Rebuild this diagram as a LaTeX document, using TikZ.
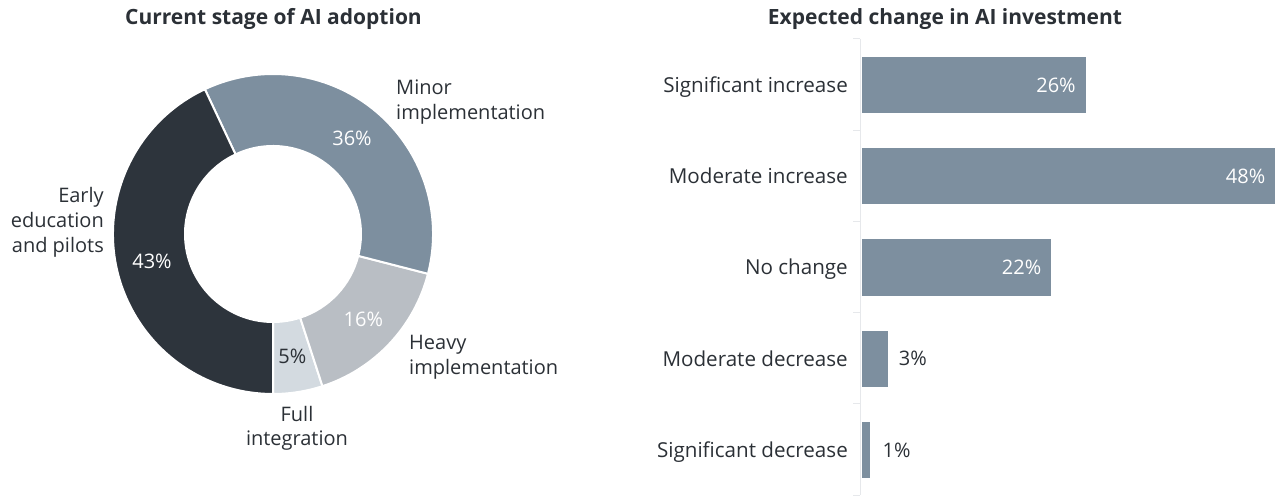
\documentclass[tikz,border=0pt]{standalone}
\usepackage{fontspec}
\setmainfont{Open Sans}
\definecolor{cdark}{HTML}{2D343C}
\definecolor{cmid}{HTML}{7D8F9F}
\definecolor{clight}{HTML}{B9BEC4}
\definecolor{cpale}{HTML}{D3DAE0}
\definecolor{ctext}{HTML}{2B3036}
\definecolor{caxis}{HTML}{E6E8EB}
\begin{document}
\begin{tikzpicture}[x=1pt,y=-1pt,
  lab/.style={font=\fontsize{20.6}{25}\selectfont, text=ctext, inner sep=0pt},
  dlab/.style={font=\fontsize{20}{25}\selectfont, text=ctext, inner sep=0pt},
  ttl/.style={font=\fontsize{21}{25}\selectfont\bfseries, text=ctext, inner sep=0pt},
  pin/.style={font=\fontsize{20}{24}\selectfont, text=white, inner sep=0pt},
  pout/.style={font=\fontsize{20}{24}\selectfont, text=ctext, inner sep=0pt},
  seg/.style={draw=white, line width=2pt, line join=miter},
  bar/.style={fill=cmid, draw=none, inner sep=0pt, minimum height=56pt, anchor=west}]
\useasboundingbox (0,0) rectangle (1275,497);
% titles
\node[ttl, anchor=base] (t1) at (273.5,25) {Current stage of AI adoption};
\node[ttl, anchor=base] (t2) at (945,25) {Expected change in AI investment};
% donut
\begin{scope}[shift={(273,234)}, yscale=-1]
  \def\R{160}\def\r{88}
  \path[seg, fill=cpale] (-90:\R) arc[start angle=-90, end angle=-72, radius=\R] -- (-72:\r) arc[start angle=-72, end angle=-90, radius=\r] -- cycle;
  \path[seg, fill=clight] (-72:\R) arc[start angle=-72, end angle=-14.4, radius=\R] -- (-14.4:\r) arc[start angle=-14.4, end angle=-72, radius=\r] -- cycle;
  \path[seg, fill=cmid] (-14.4:\R) arc[start angle=-14.4, end angle=115.2, radius=\R] -- (115.2:\r) arc[start angle=115.2, end angle=-14.4, radius=\r] -- cycle;
  \path[seg, fill=cdark] (115.2:\R) arc[start angle=115.2, end angle=270, radius=\R] -- (270:\r) arc[start angle=270, end angle=115.2, radius=\r] -- cycle;
  \node[pout] (p5) at (-81:124) {5\%};
  \node[pin] (p16) at (-43.2:124) {16\%};
  \node[pin] (p36) at (50.4:124) {36\%};
  \node[pin] (p43) at (192.6:124) {43\%};
\end{scope}
\node[dlab, anchor=base west] (lminor1) at (396,95) {Minor};
\node[dlab, anchor=base west] (lminor2) at (396,120) {implementation};
\node[dlab, anchor=base east] (learly1) at (104,203) {Early};
\node[dlab, anchor=base east] (learly2) at (104,228) {education};
\node[dlab, anchor=base east] (learly3) at (104,253) {and pilots};
\node[dlab, anchor=base west] (lheavy1) at (409,349) {Heavy};
\node[dlab, anchor=base west] (lheavy2) at (409,374) {implementation};
\node[dlab, anchor=base] (lfull1) at (297,421) {Full};
\node[dlab, anchor=base] (lfull2) at (297,445) {integration};
% axis
\coordinate (atop) at (860,39);
\coordinate (abot) at (860,495);
\draw[caxis, line width=1pt] (atop) -- (abot);
\foreach \y [count=\i] in {39,130.2,221.4,312.6,403.8,495} {
  \coordinate (tk\i) at (860,\y);
  \draw[caxis, line width=1pt] (tk\i) -- ++(-7,0);
}
% bars
\def\u{8.615}
\node[bar, minimum width=26*\u pt] (b1) at (861.5,85) {};
\node[bar, minimum width=48*\u pt] (b2) at (861.5,176.3) {};
\node[bar, minimum width=22*\u pt] (b3) at (861.5,267.5) {};
\node[bar, minimum width=3*\u pt] (b4) at (861.5,358.7) {};
\node[bar, minimum width=1*\u pt] (b5) at (861.5,449.9) {};
\node[pin, anchor=east] (v1) at ([xshift=-10pt]b1.east) {26\%};
\node[pin, anchor=east] (v2) at ([xshift=-10pt]b2.east) {48\%};
\node[pin, anchor=east] (v3) at ([xshift=-10pt]b3.east) {22\%};
\node[pout, anchor=west] (v4) at ([xshift=11pt]b4.east) {3\%};
\node[pout, anchor=west] (v5) at ([xshift=12pt]b5.east) {1\%};
\node[lab, anchor=base east] (c1) at (848,92.3) {Significant increase};
\node[lab, anchor=base east] (c2) at (848,183.6) {Moderate increase};
\node[lab, anchor=base east] (c3) at (848,274.8) {No change};
\node[lab, anchor=base east] (c4) at (848,366) {Moderate decrease};
\node[lab, anchor=base east] (c5) at (848,457.2) {Significant decrease};
\end{tikzpicture}
\end{document}
